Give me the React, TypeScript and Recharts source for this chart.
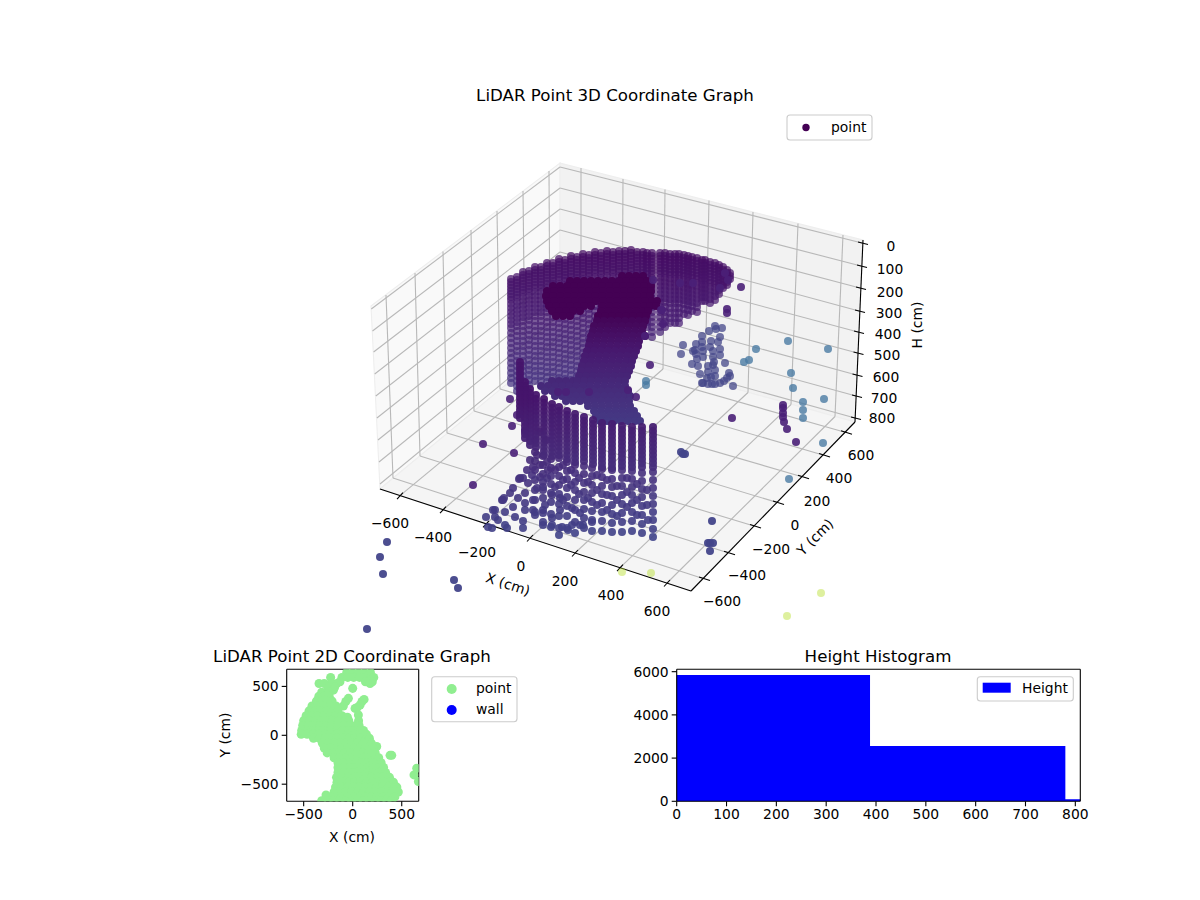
import {
  Area,
  AreaChart,
  ReferenceLine,
  Scatter,
  ScatterChart,
  XAxis,
  YAxis,
  ZAxis,
} from 'recharts';

const FONT = '"DejaVu Sans", sans-serif';
const TICK = { fontSize: 13.89, fill: '#000', fontFamily: FONT };
const AXIS_LINE = { stroke: '#000', strokeWidth: 1.1 };

const leftPane = '371,306 560,163 560,340 380,489';
const backPane = '560,163 863,240 855,422 560,340';
const floorPane = '380,489 560,340 855,422 691,591';

// x ticks: foot on the front edge, foot on the back edge, top of the back pane
const xGridFront = [[400, 495.6], [443, 509.7], [486, 523.8], [530, 538], [575, 553], [620, 567.7], [667, 583]];
const xGridBack = [[581, 346], [622, 357.5], [663, 369], [705, 380.5], [748, 392.5], [791, 404.5], [835, 416.5]];
const xGridTop = [[581, 168], [623, 179], [665, 189.5], [709, 200.5], [753, 212], [798, 223.5], [843, 235]];

// y ticks: top of the left pane, foot on the left edge, foot on the right edge
const yGridTop = [[386, 295], [415, 273], [443, 251.5], [471, 230], [497, 211], [523, 191], [549, 171]];
const yGridLeft = [[393, 478], [420, 456], [447, 433], [474, 411], [500, 389], [525, 368], [550, 348]];
const yGridRight = [[703, 578.6], [728, 552.8], [754, 526], [777, 502.4], [802, 476.7], [823, 455], [845, 432.3]];

// height ticks on the left edge, the back corner and the right axis
const hGridLeft = [[371.3, 309], [372.5, 331], [373.6, 352], [374.7, 374], [375.8, 396], [376.9, 418], [378, 440], [379, 462], [380, 484]];
const hGridCorner = [[560, 167], [560, 188], [560, 209], [560, 230], [560, 252], [560, 273], [560, 294], [560, 315], [560, 336]];
const hGridRight = [[862, 243], [861, 266], [860, 288], [859, 311], [858, 332], [857.5, 353], [856.5, 375], [856, 396], [855, 418]];

const xTickLabels = ['−600', '−400', '−200', '0', '200', '400', '600'];
const xTickSpots = [[390, 523], [433, 537], [477, 552], [521, 566], [565, 581], [611, 595], [657, 611]];
const yTickLabels = ['−600', '−400', '−200', '0', '200', '400', '600'];
const yTickSpots = [[722, 601], [747, 575], [771, 549], [795, 525], [817, 501], [839, 478], [861, 455]];
const hTickLabels = ['0', '100', '200', '300', '400', '500', '600', '700', '800'];
const hTickSpots = [[891, 246], [890, 269], [890, 292], [889, 313], [888, 334], [887, 355], [886, 377], [884, 398], [882, 418]];

// wall scan: [u, top, bottom] per column, rows share the same drops
const wallColumns = [
  [511, 279, 385], [517, 277, 395], [523, 272, 395], [529, 271, 388], [535, 267, 385], [541, 267, 385],
  [547, 263, 385], [553, 263, 385], [559, 259, 385], [565, 260, 385], [571, 256, 385], [577, 257, 385],
  [583, 254, 385], [589, 255, 385], [595, 252, 325], [601, 253, 325], [607, 251, 320], [613, 252, 320],
  [619, 251, 320], [625, 251, 320], [631, 250, 320], [637, 252, 320], [643, 252, 320], [647, 253, 330],
  [652, 253, 337], [660, 253, 332], [665, 253, 330], [670, 254, 323], [675, 254, 325], [679, 254, 323],
  [684, 255, 318], [688, 256, 315], [692, 257, 313], [697, 258, 313], [702, 260, 302], [705, 260, 303],
  [710, 262, 303], [715, 263, 302], [719, 265, 295], [723, 267, 290], [727, 270, 285], [730, 273, 280],
];
const wallRowDrops = [0, 3, 6, 9, 12, 15, 18, 21, 25, 29, 33, 37, 41, 45, 49, 54, 59, 64, 69, 74, 79, 84, 89, 94, 99, 104, 109, 114, 119, 124, 129, 134];

// dark mass in front of the wall: [v, u, u, ...]
const capRows = [
  [276, 622, 629, 636, 643],
  [281, 570, 577, 584, 591, 598, 605, 612, 619, 626, 633, 640, 647],
  [286, 553, 560, 567, 574, 581, 588, 595, 602, 609, 616, 623, 630, 637, 644, 651],
  [291, 547, 554, 561, 568, 575, 582, 589, 596, 603, 610, 617, 624, 631, 638, 645, 651],
  [296, 546, 553, 560, 567, 574, 581, 588, 595, 602, 609, 616, 623, 630, 637, 644, 650],
  [301, 547, 554, 561, 568, 575, 582, 589, 596, 603, 610, 617, 624, 631, 638, 645, 652, 657],
  [306, 549, 556, 563, 570, 577, 584, 591, 602, 609, 616, 623, 630, 637, 644, 650, 656],
  [311, 552, 559, 566, 573, 580, 601, 608, 615, 622, 629, 636, 643, 648],
  [316, 556, 563, 570, 598, 605, 612, 619, 626, 633, 640, 646],
];
const trunkRows = [
  [321, 597, 604, 611, 618, 625, 632, 639, 645],
  [326, 594, 601, 608, 615, 622, 629, 636, 643],
  [331, 593, 600, 607, 614, 621, 628, 635, 642],
  [336, 591, 598, 605, 612, 619, 626, 633, 640, 645],
  [341, 590, 597, 604, 611, 618, 625, 632, 639],
  [346, 589, 596, 603, 610, 617, 624, 631, 638],
  [351, 587, 594, 601, 608, 615, 622, 629, 636],
  [356, 585, 592, 599, 606, 613, 620, 627, 634],
  [361, 584, 591, 598, 605, 612, 619, 626, 632],
  [366, 582, 589, 596, 603, 610, 617, 624, 631],
  [371, 581, 588, 595, 602, 609, 616, 623, 629],
  [376, 579, 586, 593, 600, 607, 614, 621, 627],
  [381, 552, 559, 566, 573, 577, 584, 591, 598, 605, 612, 619, 625],
  [386, 541, 548, 555, 562, 569, 576, 583, 590, 597, 604, 611, 618, 625],
  [391, 545, 552, 559, 566, 573, 580, 587, 594, 601, 608, 615, 622, 628],
  [396, 555, 562, 569, 576, 583, 590, 597, 604, 611, 618, 625, 630],
  [401, 566, 573, 580, 587, 594, 601, 608, 615, 622, 629],
  [406, 588, 595, 602, 609, 616, 623, 630],
  [411, 594, 601, 608, 615, 622, 629, 634],
  [416, 596, 603, 610, 617, 624, 631, 637],
  [421, 600, 607, 614, 621, 628, 635, 640],
];

// front scan: dense upper part [u, top, bottom], then the sparser lower points
const frontColumns = [
  [653, 427, 470], [642, 427, 470], [632, 427, 468], [622, 426, 468], [612, 424, 468], [602, 423, 468],
  [593, 420, 466], [584, 417, 464], [575, 414, 464], [567, 411, 460], [559, 407, 456], [552, 404, 458],
  [544, 399, 455], [536, 395, 450], [530, 389, 445], [525, 382, 440], [520, 362, 420],
];
const frontRowDrops = [0, 4, 8, 12, 16, 20, 24, 28, 32, 36, 40, 44, 48, 52, 56, 60];
const frontLower: [number, number[]][] = [
  [653, [472, 480, 488, 496, 504, 512, 520, 529, 537]],
  [642, [473, 481, 489, 497, 506, 515, 524, 533]],
  [632, [471, 479, 487, 495, 503, 512, 521, 531]],
  [622, [470, 478, 486, 495, 504, 513, 522, 532]],
  [612, [470, 479, 487, 496, 505, 514, 523, 532]],
  [602, [469, 477, 486, 494, 503, 512, 521, 531]],
  [592, [468, 476, 485, 493, 502, 511, 520, 531]],
  [584, [466, 474, 483, 492, 500, 509, 518, 528]],
  [575, [465, 473, 482, 490, 500, 510, 522, 533]],
  [567, [462, 471, 479, 488, 497, 506, 516, 528]],
  [559, [458, 467, 476, 485, 494, 504, 516, 528, 535]],
  [551, [459, 468, 476, 484, 493, 502, 514, 527]],
  [543, [456, 465, 474, 482, 490, 498, 510, 522]],
  [535, [452, 461, 470, 480, 490, 500, 512]],
];
const floorU = [513, 523, 519, 528, 533, 527, 532, 540, 537, 543, 552, 560, 502, 504, 510, 518, 525, 513, 525, 533, 493, 495, 486, 488, 492, 498, 505, 505, 507, 515, 523, 523, 535, 543, 552, 543, 552, 562, 572, 560, 572, 580, 583, 592,
  647, 647, 648, 637, 637, 637, 627, 627, 627, 617, 617, 617, 607, 607, 607, 597, 597, 597, 588, 588, 579, 579, 571, 571, 563, 563, 563, 555, 555, 547, 547, 540, 535, 546, 537, 540, 548, 530, 525, 533, 545, 520, 503, 495, 568, 580];
const floorV = [488, 478, 479, 483, 467, 470, 475, 477, 488, 487, 495, 498, 500, 498, 493, 498, 503, 507, 510, 500, 510, 517, 517, 527, 528, 520, 512, 525, 528, 517, 528, 521, 515, 513, 518, 525, 525, 527, 525, 510, 508, 513, 525, 522,
  490, 505, 520, 484, 500, 515, 478, 492, 507, 486, 500, 516, 480, 495, 510, 475, 490, 505, 482, 498, 478, 494, 470, 485, 465, 480, 500, 470, 487, 462, 478, 432, 440, 440, 455, 465, 470, 460, 493, 510, 505, 478, 500, 510, 530, 525];

const clusterU = [715, 722, 716, 709, 702, 720, 711, 718, 702, 696, 683, 702, 710, 713, 720, 695, 703, 693, 720, 681, 696, 703, 713, 697, 714, 713, 692, 698, 708, 725, 715, 708, 700, 715, 707, 729, 730, 727, 724, 720, 715, 708, 703, 702, 712, 733, 711];
const clusterV = [326, 328, 329, 331, 336, 337, 341, 342, 342, 344, 345, 347, 347, 351, 349, 350, 351, 351, 355, 354, 354, 357, 357, 359, 362, 365, 364, 366, 366, 363, 370, 372, 374, 376, 378, 373, 376, 378, 381, 383, 384, 384, 383, 383, 384, 386, 377];

const purpleU = [510, 517, 512, 525, 483, 514, 473, 558, 566, 589, 650, 636, 628, 741, 727, 727, 732, 796, 787, 784, 783, 783, 783, 783, 680, 693, 663, 661, 645, 653, 662, 728, 720, 725];
const purpleV = [399, 415, 426, 431, 444, 453, 485, 392, 392, 392, 365, 397, 390, 287, 309, 313, 418, 442, 429, 422, 417, 413, 408, 405, 283, 283, 324, 310, 336, 280, 310, 280, 288, 273];

const indigoU = [387, 380, 383, 454, 458, 367, 681, 683, 685, 712, 708, 710, 713, 710];
const indigoV = [542, 557, 574, 580, 588, 629, 452, 454, 454, 521, 543, 543, 543, 551];

const tealU = [788, 828, 756, 749, 744, 791, 793, 824, 803, 803, 803, 823, 789, 646, 646];
const tealV = [341, 349, 349, 360, 362, 373, 388, 399, 402, 410, 418, 443, 479, 381, 385];

const paleU = [622, 651, 821, 787];
const paleV = [572, 573, 593, 616];

type Pt = { u: number; v: number };

const zipPts = (us: number[], vs: number[]): Pt[] => us.map((u, i) => ({ u, v: vs[i] }));
const fromRows = (rows: number[][]): Pt[] =>
  rows.flatMap(([v, ...us]) => us.map((u) => ({ u, v })));

const backWall: Pt[] = wallColumns.flatMap(([u, top, bottom]) =>
  wallRowDrops.filter((d) => top + d <= bottom).map((d) => ({ u, v: top + d })),
);
const frontDense: Pt[] = frontColumns.flatMap(([u, top, bottom]) =>
  frontRowDrops.filter((d) => top + d <= bottom).map((d) => ({ u, v: top + d })),
);
const frontSparse: Pt[] = frontLower.flatMap(([u, vs]) => vs.map((v) => ({ u, v })));

// --- 2D panel: [Y, X, X, ...] in cm ---

const planRows = [
  [645, -60, 0, 60, 120, 180],
  [592, -225, -110, -50, 10, 70, 130, 190, 215],
  [548, -130, 130, 170, 200],
  [530, -343, -290, -163, -215, 177],
  [490, -250, -185],
  [480, 0],
  [462, -197],
  [440, -316, -248],
  [400, -345, -290, -240],
  [378, -44],
  [367, 116],
  [345, -70, 95],
  [350, -370, -315, -260, -210],
  [310, 75],
  [299, -95],
  [300, -415, -355, -295, -235, -170],
  [285, 45],
  [275, 24],
  [250, -445, -385, -325, -265, -205, -150],
  [207, 58],
  [200, -475, -415, -355, -295, -235, -175, -110],
  [184, -54],
  [150, -500, -440, -380, -320, -260, -200, -140, -80, -40, 60],
  [100, -510, -450, -390, -330, -270, -210, -150, -90, -30, 30, 65],
  [50, -520, -460, -400, -340, -280, -220, -160, -100, -40, 20, 80, 110],
  [10, -525, -465, -405, -345, -285, -225, -165, -105, -45, 15, 75, 140],
  [-30, -400, -340, -280, -220, -160, -100, -40, 20, 80, 140, 170],
  [-80, -310, -250, -190, -130, -70, -10, 50, 110, 190],
  [-115, 245],
  [-130, -290, -230, -170, -110, -50, 10, 70, 130, 210],
  [-180, -260, -200, -140, -80, -20, 40, 100, 160, 230],
  [-205, 381, 398],
  [-230, -190, -130, -70, -10, 50, 110, 170, 230, 265],
  [-280, -150, -90, -30, 30, 90, 150, 210, 290],
  [-330, -150, -90, -30, 30, 90, 150, 210, 270, 315],
  [-337, 653],
  [-380, -150, -90, -30, 30, 90, 150, 210, 270, 335],
  [-405, 625],
  [-430, -165, -105, -45, 15, 75, 135, 195, 255, 315, 375],
  [-473, 670],
  [-480, -160, -100, -40, 20, 80, 140, 200, 260, 320, 380, 415],
  [-530, -175, -115, -55, 5, 65, 125, 185, 245, 305, 365, 425, 450],
  [-580, -190, -130, -70, -10, 50, 110, 170, 230, 290, 350, 410, 465],
  [-610, -272],
  [-630, -230, -170, -110, -50, 10, 70, 130, 190, 250, 310, 370, 430],
  [-670, -316, -250, -190, -130, -70, -10, 50, 110, 170, 230, 290, 350, 400],
];
const planPoints = planRows.flatMap(([y, ...xs]) => xs.map((x) => ({ x, y })));
const planTicks = [-500, 0, 500];

// --- histogram: left edge of each bin and its count ---

const binStart = [0, 388, 780, 810];
const binCount = [5850, 2560, 90, 90];
const histogram = binStart.map((x, i) => ({ x, count: binCount[i] }));
const histXTicks = [0, 100, 200, 300, 400, 500, 600, 700, 800];
const histYTicks = [0, 2000, 4000, 6000];

// --- colours ---

function ramp(stops: [number, [number, number, number]][]) {
  return (v: number) => {
    let i = 0;
    while (i < stops.length - 2 && v > stops[i + 1][0]) i++;
    const [v0, c0] = stops[i];
    const [v1, c1] = stops[i + 1];
    const t = Math.min(1, Math.max(0, (v - v0) / (v1 - v0)));
    const c = c0.map((a, k) => Math.round(a + (c1[k] - a) * t));
    return `rgb(${c[0]},${c[1]},${c[2]})`;
  };
}

const wallShade = ramp([[250, [68, 10, 98]], [320, [72, 30, 115]], [390, [68, 52, 130]]]);
const trunkShade = ramp([[320, [68, 5, 88]], [350, [71, 24, 110]], [400, [70, 48, 126]], [425, [68, 58, 132]]]);
const frontShade = ramp([[400, [70, 20, 108]], [450, [71, 40, 120]], [490, [70, 54, 129]], [540, [63, 67, 137]]]);

function dot(fill: string | ((v: number) => string), opacity: number) {
  return (p: any) => (
    <circle
      cx={p.cx}
      cy={p.cy}
      r={4}
      fill={typeof fill === 'string' ? fill : fill(p.payload.v)}
      fillOpacity={opacity}
    />
  );
}

function viewAxes() {
  return [
    <XAxis key="x" type="number" dataKey="u" domain={[0, 1200]} hide />,
    <YAxis key="y" type="number" dataKey="v" domain={[0, 900]} reversed hide />,
  ];
}

const noMark = () => <g />;

function GridLayer() {
  const lines: { a: number[]; b: number[]; color: string }[] = [];
  const grid = '#b8b8b8';
  xGridFront.forEach((p, i) => {
    lines.push({ a: p, b: xGridBack[i], color: grid });
    lines.push({ a: xGridBack[i], b: xGridTop[i], color: grid });
  });
  yGridTop.forEach((p, i) => {
    lines.push({ a: p, b: yGridLeft[i], color: grid });
    lines.push({ a: yGridLeft[i], b: yGridRight[i], color: grid });
  });
  hGridLeft.forEach((p, i) => {
    lines.push({ a: p, b: hGridCorner[i], color: grid });
    lines.push({ a: hGridCorner[i], b: hGridRight[i], color: grid });
  });
  // axis spines and tick marks
  lines.push({ a: [380, 489], b: [691, 591], color: '#000' });
  lines.push({ a: [691, 591], b: [855, 422], color: '#000' });
  lines.push({ a: [855, 422], b: [863, 240], color: '#000' });
  xGridFront.forEach((p) => lines.push({ a: [p[0] + 3, p[1] - 3], b: [p[0] - 3, p[1] + 3.5], color: '#000' }));
  yGridRight.forEach((p) => lines.push({ a: [p[0] - 4, p[1] - 1.5], b: [p[0] + 7, p[1] + 2], color: '#000' }));
  hGridRight.forEach((p) => lines.push({ a: [p[0] - 4, p[1] - 1], b: [p[0] + 6, p[1] + 1.5], color: '#000' }));

  return (
    <ScatterChart width={1200} height={900} margin={{ top: 0, right: 0, bottom: 0, left: 0 }} style={{ position: 'absolute', left: 0, top: 0 }}>
      {viewAxes()}
      {lines.map((l, i) => (
        <Scatter
          key={i}
          data={[{ u: l.a[0], v: l.a[1] }, { u: l.b[0], v: l.b[1] }]}
          line={{ stroke: l.color, strokeWidth: 1.1 }}
          shape={noMark}
          isAnimationActive={false}
        />
      ))}
    </ScatterChart>
  );
}

function PointLayer() {
  return (
    <ScatterChart width={1200} height={900} margin={{ top: 0, right: 0, bottom: 0, left: 0 }} style={{ position: 'absolute', left: 0, top: 0 }}>
      {viewAxes()}
      <ZAxis range={[50, 50]} />
      <Scatter data={zipPts(tealU, tealV)} shape={dot('#4a7ba3', 0.8)} isAnimationActive={false} />
      <Scatter data={zipPts(clusterU, clusterV)} shape={dot('#44478a', 0.75)} isAnimationActive={false} />
      <Scatter data={backWall} shape={dot(wallShade, 0.72)} isAnimationActive={false} />
      <Scatter data={fromRows(capRows)} shape={dot('#440154', 1)} isAnimationActive={false} />
      <Scatter data={fromRows(trunkRows)} shape={dot(trunkShade, 1)} isAnimationActive={false} />
      <Scatter data={zipPts(purpleU, purpleV)} shape={dot('#4a2078', 0.9)} isAnimationActive={false} />
      <Scatter data={zipPts(floorU, floorV)} shape={dot(frontShade, 0.9)} isAnimationActive={false} />
      <Scatter data={frontSparse} shape={dot(frontShade, 0.9)} isAnimationActive={false} />
      <Scatter data={frontDense} shape={dot(frontShade, 0.95)} isAnimationActive={false} />
      <Scatter data={zipPts(indigoU, indigoV)} shape={dot('#42458a', 0.95)} isAnimationActive={false} />
      <Scatter data={zipPts(paleU, paleV)} shape={dot('#b5de2b', 0.45)} isAnimationActive={false} />
    </ScatterChart>
  );
}

function PlanChart() {
  return (
    <ScatterChart
      width={250}
      height={220}
      margin={{ top: 29.3, right: 31.3, bottom: 28.7, left: 26.7 }}
      style={{ position: 'absolute', left: 200, top: 640 }}
    >
      <XAxis
        type="number"
        dataKey="x"
        domain={[-673, 673]}
        ticks={planTicks}
        allowDataOverflow
        height={30}
        tick={TICK}
        axisLine={AXIS_LINE}
        tickLine={AXIS_LINE}
        tickSize={5}
        tickMargin={3}
        interval={0}
        tickFormatter={(t: number) => String(t).replace('-', '−')}
      />
      <YAxis
        type="number"
        dataKey="y"
        domain={[-675, 675]}
        ticks={planTicks}
        allowDataOverflow
        width={60}
        tick={TICK}
        axisLine={AXIS_LINE}
        tickLine={AXIS_LINE}
        tickSize={5}
        tickMargin={3}
        interval={0}
        tickFormatter={(t: number) => String(t).replace('-', '−')}
      />
      <ZAxis range={[120, 120]} />
      <Scatter data={planPoints} fill="#90ee90" isAnimationActive={false} />
      <ReferenceLine x={673} stroke="#000" strokeWidth={1.1} />
      <ReferenceLine y={675} stroke="#000" strokeWidth={1.1} />
    </ScatterChart>
  );
}

function HeightChart() {
  return (
    <AreaChart
      width={480}
      height={220}
      data={histogram}
      margin={{ top: 29.3, right: 19.7, bottom: 28.7, left: 6.7 }}
      style={{ position: 'absolute', left: 620, top: 640 }}
    >
      <XAxis
        type="number"
        dataKey="x"
        domain={[0, 810]}
        ticks={histXTicks}
        height={30}
        tick={TICK}
        axisLine={AXIS_LINE}
        tickLine={AXIS_LINE}
        tickSize={5}
        tickMargin={3}
        interval={0}
      />
      <YAxis
        type="number"
        domain={[0, 6110]}
        ticks={histYTicks}
        width={50}
        tick={TICK}
        axisLine={AXIS_LINE}
        tickLine={AXIS_LINE}
        tickSize={5}
        tickMargin={3}
        interval={0}
      />
      <Area
        type="stepAfter"
        dataKey="count"
        stroke="none"
        fill="#0000ff"
        fillOpacity={1}
        isAnimationActive={false}
        dot={false}
        activeDot={false}
      />
      <ReferenceLine x={810} stroke="#000" strokeWidth={1.1} />
      <ReferenceLine y={6110} stroke="#000" strokeWidth={1.1} />
    </AreaChart>
  );
}

function spotText(labels: string[], spots: number[][]) {
  return labels.map((t, i) => (
    <text key={t + i} x={spots[i][0]} y={spots[i][1]} textAnchor="middle" dominantBaseline="central">
      {t}
    </text>
  ));
}

const legendBox = { fill: '#fff', fillOpacity: 0.8, stroke: '#ccc', strokeWidth: 1.1 };

export default function App() {
  return (
    <div style={{ position: 'absolute', left: 0, top: 0, width: 1200, height: 900, background: '#fff', overflow: 'hidden' }}>
      <svg width={1200} height={900} style={{ position: 'absolute', left: 0, top: 0 }}>
        <polygon points={leftPane} fill="#f9f9f9" stroke="#eeeeee" strokeWidth={1.1} />
        <polygon points={backPane} fill="#f2f2f2" stroke="#eeeeee" strokeWidth={1.1} />
        <polygon points={floorPane} fill="#f5f5f5" stroke="#eeeeee" strokeWidth={1.1} />
      </svg>
      <GridLayer />
      <PointLayer />
      <PlanChart />
      <HeightChart />
      <svg width={1200} height={900} style={{ position: 'absolute', left: 0, top: 0, pointerEvents: 'none' }} fontFamily={FONT} fontSize={13.89} fill="#000">
        <text x={615} y={101} textAnchor="middle" fontSize={16.67}>LiDAR Point 3D Coordinate Graph</text>
        <text x={352} y={662} textAnchor="middle" fontSize={16.67}>LiDAR Point 2D Coordinate Graph</text>
        <text x={878} y={662} textAnchor="middle" fontSize={16.67}>Height Histogram</text>

        {spotText(xTickLabels, xTickSpots)}
        {spotText(yTickLabels, yTickSpots)}
        {spotText(hTickLabels, hTickSpots)}
        <text x={508} y={584} textAnchor="middle" dominantBaseline="central" transform="rotate(18 508 584)">X (cm)</text>
        <text x={815} y={537} textAnchor="middle" dominantBaseline="central" transform="rotate(-45 815 537)">Y (cm)</text>
        <text x={917} y={325} textAnchor="middle" dominantBaseline="central" transform="rotate(-90 917 325)">H (cm)</text>

        <text x={352} y={842} textAnchor="middle">X (cm)</text>
        <text x={225} y={735} textAnchor="middle" dominantBaseline="central" transform="rotate(-90 225 735)">Y (cm)</text>

        <rect x={787} y={115} width={85} height={25} rx={3} {...legendBox} />
        <circle cx={806} cy={127.5} r={3.7} fill="#440154" />
        <text x={831} y={132}>point</text>

        <rect x={431.7} y={676.7} width={85.3} height={45} rx={3} {...legendBox} />
        <circle cx={451.7} cy={689} r={5} fill="#90ee90" />
        <circle cx={451.7} cy={710} r={5} fill="#0000ff" />
        <text x={476} y={693}>point</text>
        <text x={476} y={714}>wall</text>

        <rect x={977.3} y={676.7} width={96} height={24.3} rx={3} {...legendBox} />
        <rect x={982.7} y={682.7} width={28} height={10} fill="#0000ff" />
        <text x={1022} y={693}>Height</text>
      </svg>
    </div>
  );
}
